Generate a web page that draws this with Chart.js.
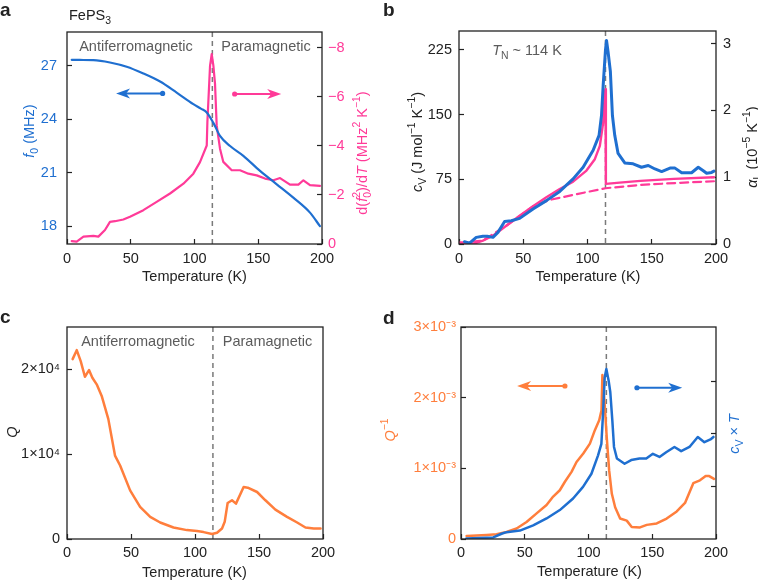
<!DOCTYPE html>
<html>
<head>
<meta charset="utf-8">
<script src="https://cdn.jsdelivr.net/npm/chart.js@4.4.1/dist/chart.umd.min.js"></script>
<style>
  html, body { margin: 0; padding: 0; background: #fff; }
  #fig { position: relative; width: 758px; height: 581px; overflow: hidden; }
  canvas { position: absolute; }
</style>
</head>
<body>
<div id="fig">
  <canvas id="pa" width="379" height="290" style="left:0;top:0"></canvas>
  <canvas id="pb" width="379" height="290" style="left:379px;top:0"></canvas>
  <canvas id="pc" width="379" height="291" style="left:0;top:290px"></canvas>
  <canvas id="pd" width="379" height="291" style="left:379px;top:290px"></canvas>
</div>
<script>
const FONT = '"Liberation Sans", Arial, Helvetica, sans-serif';
const FS = 14.5;
const BLUE = '#1f6fd0', PINK = '#ff3a98', ORANGE = '#ff7e3c', GREY = '#5b5b5b', INK = '#222';

// shared temperature axis
const tempTicks = [0, 50, 100, 150, 200];
const TN = 114;

// a: resonance frequency f0 (MHz) and d(f0^2)/dT (MHz^2 K^-1, plotted negative)
const aTempF = [3.7, 10, 20.7, 33.7, 46.8, 59.9, 73, 86, 99.1, 105, 109.6, 114.8, 120, 127.9, 138.3, 151.4, 164.5, 177.5, 190.6, 198.4];
const aF0 = [27.34, 27.33, 27.32, 27.19, 26.95, 26.57, 26.12, 25.5, 24.85, 24.6, 24.38, 23.8, 23.07, 22.5, 21.95, 21.1, 20.35, 19.6, 18.76, 18.0];
const aTempD = [3.7, 7.6, 12.9, 20.7, 24.6, 29.8, 33.7, 37.6, 44.2, 49.4, 59.9, 70.3, 80.8, 91.3, 99.1, 104.3, 109.6, 110.1, 112.2, 113.5, 114.8, 116.1, 117.4, 120, 122.6, 129.2, 135.7, 142.2, 148.8, 155.3, 161.9, 167.1, 174.9, 181.5, 185.4, 190.6, 198.4];
const aDf2 = [-0.12, -0.1, -0.3, -0.33, -0.3, -0.57, -0.9, -0.93, -1.0, -1.11, -1.38, -1.72, -2.06, -2.46, -2.87, -3.34, -4.02, -4.97, -7.28, -7.75, -7.28, -6.53, -4.84, -3.89, -3.35, -3.01, -3.01, -2.87, -2.8, -2.67, -2.6, -2.69, -2.42, -2.42, -2.6, -2.4, -2.37];
const aLeftTicks = [18, 21, 24, 27];
const aRightTicks = [-8, -6, -4, -2, 0];

// b: specific heat cv (J mol^-1 K^-1) and thermal expansion alphaL (10^-5 K^-1)
const bTempCv = [4.3, 8.2, 13.4, 18.6, 22, 26.4, 30.3, 35.5, 40.7, 47.2, 57.6, 68, 78.4, 88.8, 96.6, 104.4, 109, 110.9, 112.2, 114, 114.8, 116, 117.8, 119.4, 121.2, 123.8, 129, 135.5, 142, 147.3, 152.5, 157.7, 164.2, 168.1, 173.3, 181, 186.2, 190.1, 192.7, 196.6, 198.4];
const bCv = [2.7, 1, 7.7, 8.9, 9, 7.7, 13.5, 26, 27, 29.7, 40.6, 50.3, 61, 75.5, 89, 108.7, 126, 149, 184, 225, 236, 223, 200, 149, 126, 105, 94, 93, 89, 91, 87, 84, 88, 88, 82.6, 82.6, 89, 85, 82, 83, 84.5];
const bTempAlpha = [0.4, 5, 10.8, 18.6, 26.4, 36.8, 47.2, 57.6, 68, 78.4, 88.8, 99.2, 105.7, 109.6, 112.2, 113.5, 114, 114.3, 125, 141.2, 167.2, 198.4];
const bAlpha = [0.02, 0.01, 0, 0.05, 0.124, 0.274, 0.424, 0.564, 0.699, 0.824, 0.933, 1.1, 1.27, 1.47, 1.82, 2.27, 2.32, 0.9, 0.92, 0.945, 0.975, 1.0];
const bTempBg = [0.4, 18.6, 36.8, 57.6, 70.5, 88.8, 100, 114, 141, 170, 198.4];
const bAlphaBg = [0.02, 0.05, 0.274, 0.564, 0.66, 0.735, 0.78, 0.835, 0.885, 0.915, 0.94];
const bLeftTicks = [0, 75, 150, 225];
const bRightTicks = [0, 1, 2, 3];

// c: quality factor Q
const cTemp = [4.4, 7.6, 10.7, 14, 17.2, 19.8, 23.2, 27.1, 32.3, 37.5, 41.5, 49.3, 57.1, 65, 72.8, 83.2, 93.7, 101.5, 106.7, 113.3, 117.2, 121.1, 123.2, 125.5, 128.9, 132, 138, 141.2, 148.5, 155, 162.8, 171.9, 179.8, 186.3, 192.8, 198.1];
const cQ = [21213, 22270, 20978, 19137, 19918, 19020, 18240, 16872, 14138, 9840, 8668, 5737, 3784, 2612, 1947, 1361, 1048, 931, 814, 580, 736, 1244, 2026, 4252, 4565, 4174, 6128, 6050, 5542, 4565, 3471, 2612, 1947, 1361, 1244, 1244];
const cTicks = [0, 10000, 20000];

// d: dissipation Q^-1 (in 10^-3) and cv x T (arb. units)
const dTempQ = [4.4, 20.1, 27.9, 35.7, 43.6, 51.4, 59.3, 67.1, 72.3, 77.5, 81.5, 86.7, 90.6, 95.9, 101.1, 105, 108.4, 110.2, 110.9, 112.5, 114.3, 116.2, 118.3, 120.9, 124.8, 130, 133.9, 140.4, 145.7, 153.5, 161.3, 169.2, 175.7, 182.2, 187.4, 191.9, 194.7, 198.4];
const dInvQ = [0.042, 0.056, 0.066, 0.1, 0.148, 0.24, 0.363, 0.48, 0.6, 0.69, 0.81, 0.95, 1.09, 1.21, 1.35, 1.54, 1.68, 1.82, 2.32, 1.96, 1.44, 0.97, 0.64, 0.45, 0.29, 0.26, 0.17, 0.164, 0.2, 0.22, 0.29, 0.39, 0.51, 0.79, 0.83, 0.89, 0.89, 0.85];
const dTempCvT = [4.2, 25.3, 31.8, 35.7, 46.2, 56.6, 67.1, 77.5, 87.9, 95.7, 102.3, 107.5, 110.1, 111.4, 112.7, 114, 115.8, 117.1, 118.7, 120, 122.3, 128.3, 133.5, 140, 145.3, 150.5, 155.7, 160.9, 167.4, 172.7, 179.2, 185.7, 190.9, 196.1, 198];
const dCvT = [0.01, 0.03, 0.1, 0.13, 0.16, 0.26, 0.39, 0.55, 0.77, 0.99, 1.24, 1.59, 1.81, 2.38, 3.07, 3.23, 3.01, 2.79, 2.25, 1.75, 1.53, 1.43, 1.5, 1.53, 1.53, 1.62, 1.56, 1.65, 1.75, 1.67, 1.75, 1.94, 1.84, 1.9, 1.94];
const dLeftTicks = [0, 1, 2, 3];
const dRightTicks = [1, 2, 3];

// ---- helpers ----
const pts = (xs, ys) => xs.map((x, i) => ({ x, y: ys[i] }));

function series(xs, ys, color, axis, width, extra) {
  return Object.assign({
    data: pts(xs, ys), borderColor: color, borderWidth: width, yAxisID: axis,
    pointRadius: 0, fill: false, tension: 0, borderJoinStyle: 'round', borderCapStyle: 'round'
  }, extra || {});
}

function tickGrid() {
  return { drawOnChartArea: false, drawTicks: true, tickLength: -5, tickWidth: 1.2, tickColor: INK };
}

function axisY(position, min, max, vals, color, width, pad, fmt, extra) {
  return Object.assign({
    type: 'linear', position, min, max,
    afterFit: s => { s.width = width; },
    afterBuildTicks: s => { s.ticks = vals.map(v => ({ value: v })); },
    grid: tickGrid(),
    border: { display: false },
    ticks: { color, padding: pad, font: { family: FONT, size: FS }, callback: fmt || (v => String(v)) }
  }, extra || {});
}

function axisX(height, pad) {
  return {
    type: 'linear', position: 'bottom', min: 0, max: 200,
    afterFit: s => { s.height = height; },
    afterBuildTicks: s => { s.ticks = tempTicks.map(v => ({ value: v })); },
    grid: tickGrid(),
    border: { display: false },
    ticks: { color: INK, padding: pad, maxRotation: 0, font: { family: FONT, size: FS } }
  };
}

// text with italics, sub- and superscripts; flags: i italic, b sub, p sup, k keep x
function drawRich(ctx, t) {
  const size = t.size || FS;
  const fontFor = f => {
    const sz = /[bp]/.test(f) ? size * 0.72 : size;
    return (f.includes('i') ? 'italic ' : '') + (t.bold ? 'bold ' : '') + sz + 'px ' + FONT;
  };
  ctx.save();
  ctx.fillStyle = t.color || INK;
  ctx.textBaseline = 'middle';
  ctx.textAlign = 'left';
  let w = 0;
  for (const [s, f = ''] of t.parts) {
    if (f.includes('k')) continue;
    ctx.font = fontFor(f);
    w += ctx.measureText(s).width;
  }
  ctx.translate(t.x, t.y);
  if (t.rot) ctx.rotate(-Math.PI / 2);
  let cx = t.align === 'left' ? 0 : -w / 2;
  for (const [s, f = ''] of t.parts) {
    ctx.font = fontFor(f);
    const dy = f.includes('b') ? size * 0.32 : f.includes('p') ? -size * 0.4 : 0;
    ctx.fillText(s, cx, dy);
    if (!f.includes('k')) cx += ctx.measureText(s).width;
  }
  ctx.restore();
}

function drawArrow(chart, ar) {
  const ctx = chart.ctx, sx = chart.scales.x, sy = chart.scales[ar.axis];
  const x1 = sx.getPixelForValue(ar.from), x2 = sx.getPixelForValue(ar.to), y = sy.getPixelForValue(ar.y);
  const dir = Math.sign(x2 - x1);
  ctx.save();
  ctx.strokeStyle = ar.color; ctx.fillStyle = ar.color; ctx.lineWidth = 2;
  ctx.beginPath(); ctx.moveTo(x1, y); ctx.lineTo(x2 - dir * 8, y); ctx.stroke();
  ctx.beginPath(); ctx.arc(x1, y, 2.6, 0, Math.PI * 2); ctx.fill();
  ctx.beginPath();
  ctx.moveTo(x2, y);
  ctx.lineTo(x2 - dir * 14, y - 5);
  ctx.lineTo(x2 - dir * 10, y);
  ctx.lineTo(x2 - dir * 14, y + 5);
  ctx.closePath(); ctx.fill();
  ctx.restore();
}

const xTitle = (x, y) => ({ x, y, parts: [['Temperature (K)']] });

// per-panel decorations
const decorCfg = {
  pa: {
    arrows: [
      { from: 75, to: 38.5, y: 25.45, axis: 'y', color: BLUE },
      { from: 131.5, to: 168, y: 25.42, axis: 'y', color: PINK }
    ],
    texts: [
      { x: 0, y: 11, parts: [['a']], bold: true, size: 19, align: 'left' },
      { x: 69, y: 16, parts: [['FePS'], ['3', 'b']], align: 'left' },
      { x: 136, y: 47, parts: [['Antiferromagnetic']], color: GREY },
      { x: 266, y: 47, parts: [['Paramagnetic']], color: GREY },
      { x: 30, y: 131, rot: true, color: BLUE, parts: [['f', 'i'], ['0', 'b'], [' (MHz)']] },
      { x: 363, y: 153, rot: true, color: PINK, parts: [['d('], ['f', 'i'], ['0', 'bk'], ['2', 'p'], [')/d'], ['T', 'i'], [' (MHz'], ['2', 'p'], [' K'], ['\u22121', 'p'], [')']] },
      xTitle(194.5, 277)
    ]
  },
  pb: {
    texts: [
      { x: 4, y: 11, parts: [['b']], bold: true, size: 19, align: 'left' },
      { x: 148, y: 51, color: GREY, parts: [['T', 'i'], ['N', 'b'], [' ~ 114 K']] },
      { x: 39, y: 142, rot: true, parts: [['c', 'i'], ['V', 'b'], [' (J mol'], ['\u22121', 'p'], [' K'], ['\u22121', 'p'], [')']] },
      { x: 374, y: 147, rot: true, parts: [['\u03b1', 'i'], ['L', 'b'], [' (10'], ['\u22125', 'p'], [' K'], ['\u22121', 'p'], [')']] },
      xTitle(209, 277)
    ]
  },
  pc: {
    texts: [
      { x: 0, y: 28, parts: [['c']], bold: true, size: 19, align: 'left' },
      { x: 138, y: 52, parts: [['Antiferromagnetic']], color: GREY },
      { x: 267.5, y: 52, parts: [['Paramagnetic']], color: GREY },
      { x: 13, y: 142, rot: true, parts: [['Q', 'i']] },
      xTitle(194.5, 283)
    ]
  },
  pd: {
    arrows: [
      { from: 81.5, to: 44, y: 2.165, axis: 'y', color: ORANGE },
      { from: 138, to: 173.5, y: 2.14, axis: 'y', color: BLUE }
    ],
    texts: [
      { x: 4, y: 29, parts: [['d']], bold: true, size: 19, align: 'left' },
      { x: 12, y: 140, rot: true, color: ORANGE, parts: [['Q', 'i'], ['\u22121', 'p']] },
      { x: 356, y: 144, rot: true, color: BLUE, parts: [['c', 'i'], ['V', 'b'], [' \u00d7 '], ['T', 'i']] },
      xTitle(210.5, 282)
    ]
  }
};

const decor = {
  id: 'decor',
  beforeDatasetsDraw(chart) {
    const { ctx, chartArea: a } = chart;
    const x = chart.scales.x.getPixelForValue(TN);
    ctx.save();
    ctx.strokeStyle = '#7a7a7a'; ctx.lineWidth = 1.5; ctx.setLineDash([5, 4]);
    ctx.beginPath(); ctx.moveTo(x, a.top); ctx.lineTo(x, a.bottom); ctx.stroke();
    ctx.restore();
  },
  afterDraw(chart) {
    const { ctx, chartArea: a } = chart;
    const cfg = decorCfg[chart.canvas.id] || {};
    ctx.save();
    ctx.strokeStyle = INK; ctx.lineWidth = 1.3;
    ctx.strokeRect(a.left, a.top, a.right - a.left, a.bottom - a.top);
    ctx.restore();
    (cfg.arrows || []).forEach(ar => drawArrow(chart, ar));
    (cfg.texts || []).forEach(t => drawRich(ctx, t));
  }
};

function makeChart(id, datasets, scales, padding) {
  return new Chart(document.getElementById(id), {
    type: 'line',
    data: { datasets },
    options: {
      responsive: false, animation: false, devicePixelRatio: 1,
      layout: { padding },
      plugins: { legend: { display: false }, tooltip: { enabled: false } },
      scales
    },
    plugins: [decor]
  });
}

const minus = v => v === 0 ? '0' : '\u2212' + Math.abs(v);

// a
makeChart('pa', [
  series(aTempF, aF0, BLUE, 'y', 2.2, { cubicInterpolationMode: 'monotone' }),
  series(aTempD, aDf2, PINK, 'y2', 2.2)
], {
  x: axisX(46, 11),
  y: axisY('left', 17, 28.9, aLeftTicks, BLUE, 67, 15),
  y2: axisY('right', -8.65, 0, aRightTicks, PINK, 57, 11, minus, { reverse: true })
}, { top: 32, left: 0, right: 0, bottom: 0 });

// b
makeChart('pb', [
  series(bTempCv, bCv, BLUE, 'y', 3),
  series(bTempAlpha, bAlpha, PINK, 'y2', 2.4),
  series(bTempBg, bAlphaBg, PINK, 'y2', 2.2, { borderDash: [8, 5] })
], {
  x: axisX(46, 11),
  y: axisY('left', 0, 247, bLeftTicks, INK, 80, 12),
  y2: axisY('right', 0, 3.19, bRightTicks, INK, 42, 12)
}, { top: 31, left: 0, right: 0, bottom: 0 });

// c
makeChart('pc', [
  series(cTemp, cQ, ORANGE, 'y', 2.5)
], {
  x: axisX(42, 10),
  y: axisY('left', 0, 25000, cTicks, INK, 67, 12, v => v === 0 ? '0' : (v / 10000) + '\u00d710\u2074')
}, { top: 37, left: 0, right: 56, bottom: 0 });

// d
makeChart('pd', [
  series(dTempCvT, dCvT, BLUE, 'y2', 2.5),
  series(dTempQ, dInvQ, ORANGE, 'y', 2.5)
], {
  x: axisX(42, 10),
  y: axisY('left', 0, 3, dLeftTicks, ORANGE, 82, 10, v => v === 0 ? '0' : v + '\u00d710\u207b\u00b3'),
  y2: axisY('right', 0, 4.03, dRightTicks, BLUE, 42, 10, () => '')
}, { top: 37, left: 0, right: 0, bottom: 0 });
</script>
</body>
</html>
